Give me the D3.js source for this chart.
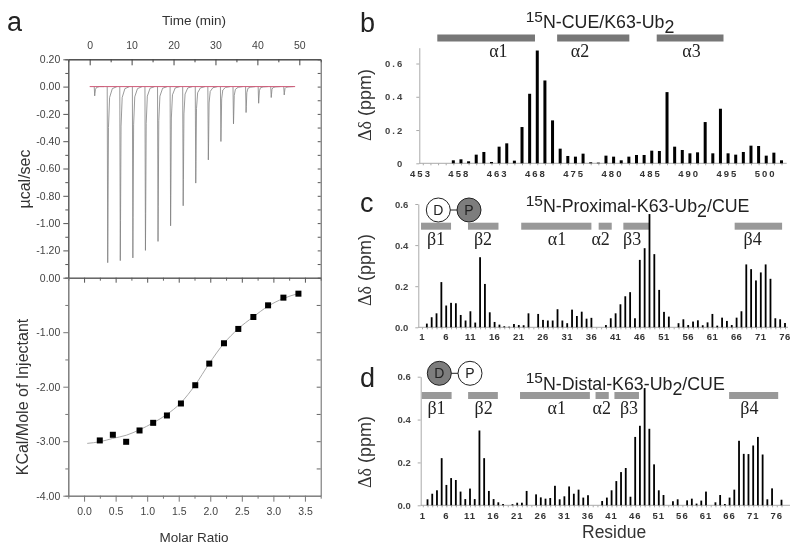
<!DOCTYPE html>
<html>
<head>
<meta charset="utf-8">
<style>
  html, body { margin: 0; padding: 0; background: #fff; }
  svg { display: block; filter: blur(0.35px); }
  text { font-family: "Liberation Sans", Arial, sans-serif; }
  .serif { font-family: "Liberation Serif", serif; }
</style>
</head>
<body>
<svg width="800" height="550"></svg>
<script src="https://cdnjs.cloudflare.com/ajax/libs/d3/7.8.5/d3.min.js"></script>
<script>
// ITC raw trace: one row per injection, power at peakOffsets minutes around each peak
var peakTimes = [1.2, 4.3, 7.3, 10.3, 13.3, 16.3, 19.3, 22.3, 25.3, 28.3, 31.3, 34.3, 37.3, 40.3, 43.3, 46.4];
var peakOffsets = [-0.12, 0, 0.06, 0.18, 0.45, 1.1];
var peakPower = [
    [0, -.068, -.05, -.02, -.006, 0],
    [0, -1.29, -1.0, -.3, -.08, -.015],
    [0, -1.275, -.98, -.29, -.08, -.015],
    [0, -1.255, -.96, -.28, -.075, -.015],
    [0, -1.2, -.93, -.27, -.07, -.012],
    [0, -1.134, -.88, -.25, -.07, -.012],
    [0, -1.02, -.8, -.23, -.06, -.01],
    [0, -.873, -.68, -.2, -.055, -.01],
    [0, -.707, -.55, -.16, -.045, -.01],
    [0, -.537, -.42, -.12, -.035, -.008],
    [0, -.402, -.31, -.09, -.025, -.006],
    [0, -.273, -.21, -.065, -.02, -.005],
    [0, -.19, -.145, -.045, -.012, -.004],
    [0, -.122, -.09, -.03, -.008, -.002],
    [0, -.08, -.06, -.02, -.006, -.002],
    [0, -.061, -.045, -.015, -.005, -.002]
];
var baselineTimes = [0, 49];

// ITC isotherm
var molarRatio = [.249, .456, .667, .879, 1.095, 1.313, 1.535, 1.762, 1.984, 2.217, 2.444, 2.683, 2.916, 3.159, 3.397];
var heatPerMole = [-2.986, -2.882, -3.011, -2.803, -2.663, -2.528, -2.308, -1.973, -1.576, -1.203, -.94, -.721, -.507, -.366, -.293];
var fitRatio = [.05, .25, .45, .67, .88, 1.1, 1.31, 1.53, 1.76, 1.98, 2.22, 2.44, 2.68, 2.92, 3.16, 3.4];
var fitHeat = [-3.04, -3.01, -2.95, -2.89, -2.79, -2.66, -2.51, -2.3, -1.97, -1.58, -1.2, -.94, -.72, -.52, -.38, -.29];

// panel b, residues 453-500
var shiftsB = [0, 0, 0, 0, .018, .024, .012, .052, .068, .008, .1, .12, .016, .218, .418, .678,
    .498, .258, .088, .044, .04, .058, .006, .004, .046, .04, .018, .04, .05, .05, .076, .074,
    .428, .1, .08, .06, .066, .248, .06, .328, .06, .052, .068, .106, .104, .046, .064, .018];
var labelsB = [453, 458, 463, 468, 475, 480, 485, 490, 495, 500]; // printed that way in the figure

// panel c, residues 1-76
var shiftsC = [0, .018, .049, .068, .22, .106, .119, .117, .06, .033, .078, .023, .341, .211, .073, .026,
    .013, .005, .003, .016, .011, .01, .068, 0, .065, .036, .033, .033, .088, .033, .02, .086,
    .055, .076, .042, .046, 0, 0, .011, .044, .068, .112, .151, .171, .044, .328, .385, .551,
    .356, .182, .075, .052, 0, .02, .039, .011, .028, .034, .01, .024, .065, .008, .047, .031,
    .011, .047, .078, .306, .283, .228, .267, .306, .236, .044, .039, .021];

// panel d, residues 1-77
var shiftsD = [0, .028, .054, .07, .22, .095, .127, .118, .064, .029, .078, .029, .349, .22, .067, .029,
    .014, .006, 0, .005, .012, .012, .067, 0, .051, .037, .031, .034, .091, .028, .042, .088,
    .054, .073, .036, .047, 0, 0, .02, .036, .07, .113, .155, .174, .04, .319, .371, .547,
    .357, .191, .07, .048, 0, .019, .028, 0, .023, .031, .008, .022, .064, 0, .014, .048,
    .006, .036, .073, .301, .24, .239, .279, .319, .237, .028, .079, 0, .026];
var residueLabels = [1, 6, 11, 16, 21, 26, 31, 36, 41, 46, 51, 56, 61, 66, 71, 76];

// secondary structure, in residues: name, start, end, label position
var ssNamesB = ["α1", "α2", "α3"];
var ssStartB = [454.9, 470.6, 483.65];
var ssEndB = [467.7, 480.06, 492.4];
var ssLabelB = [462.9, 473.6, 488.2];
var ssNames = ["β1", "β2", "α1", "α2", "β3", "β4"];
var ssStartC = [.8, 10.5, 21.5, 37.5, 42.6, 65.6];
var ssEndC = [7, 16.8, 36, 40.2, 48, 75.4];
var ssLabelC = [3.9, 13.6, 28.9, 37.9, 44.4, 69.3];
var ssStartD = [.8, 10.6, 21.6, 37.6, 41.6, 65.9];
var ssEndD = [7.1, 16.9, 36.4, 40.4, 46.8, 76.3];
var ssLabelD = [3.9, 13.9, 29.4, 38.9, 44.7, 70.2];

var svg = d3.select("svg");
svg.append("rect").attr("width", 800).attr("height", 550).attr("fill", "#fff");

function styleAxis(g, color, fontSize) {
    g.selectAll("path,line").attr("stroke", color);
    g.selectAll("text").attr("fill", "#444").style("font-size", fontSize + "px").attr("font-family", null);
}

function panelLetter(s, x, y) {
    svg.append("text").attr("x", x).attr("y", y).attr("fill", "#222")
        .style("font-size", "27px").text(s);
}

// ---- panel a ----
var left = 68.3, right = 320.7;
var xTime = d3.scaleLinear().domain([-5.1, 55.1]).range([left, right]);
var yPower = d3.scaleLinear().domain([-1.4, .2]).range([277.7, 59.3]);
var xRatio = d3.scaleLinear().domain([-.25, 3.75]).range([left, right]);
var yHeat = d3.scaleLinear().domain([-4, 0]).range([495.7, 277.7]);

var fmt2 = d3.format(".2f");
function hyphen(v) { return fmt2(v).replace("−", "-"); }

// top frame
svg.append("g").attr("transform", "translate(0,59.3)")
    .call(d3.axisTop(xTime).tickValues(d3.range(5, 50, 10)).tickSize(-3).tickFormat(""))
    .call(styleAxis, "#444", 10);
svg.append("g").attr("transform", "translate(0,59.3)")
    .call(d3.axisTop(xTime).tickValues(d3.range(0, 51, 10)).tickSize(-6).tickSizeOuter(0).tickPadding(10))
    .call(styleAxis, "#444", 10.5);
svg.append("g").attr("transform", "translate(" + left + ",0)")
    .call(d3.axisLeft(yPower).tickValues(d3.range(-13, 2, 2).map(function(d) { return d / 10; })).tickSize(3).tickFormat(""))
    .call(styleAxis, "#555", 10);
svg.append("g").attr("transform", "translate(" + left + ",0)")
    .call(d3.axisLeft(yPower).tickValues([-1.4, -1.2, -1, -.8, -.6, -.4, -.2, 0, .2]).tickSize(5).tickSizeOuter(0).tickPadding(3)
        .tickFormat(function(d) { return d == -1.4 ? "0.00" : hyphen(d); }))
    .call(styleAxis, "#555", 10.5);
svg.append("g").attr("transform", "translate(" + right + ",0)")
    .call(d3.axisRight(yPower).tickValues(d3.range(-14, 3, 1).map(function(d) { return d / 10; })).tickSize(-3).tickSizeOuter(0).tickFormat(""))
    .call(styleAxis, "#555", 10);

// raw trace
var traceLine = d3.line().x(function(d) { return xTime(d[0]); }).y(function(d) { return yPower(d[1]); });
peakTimes.forEach(function(t, i) {
    var pts = peakOffsets.map(function(o, j) { return [t + o, peakPower[i][j]]; });
    pts.push([t + 2.2, 0]);
    svg.append("path").datum(pts).attr("d", traceLine)
        .attr("fill", "none").attr("stroke", "#808080").attr("stroke-width", .8);
});
svg.append("path").datum(baselineTimes.map(function(t) { return [t, 0]; })).attr("d", traceLine)
    .attr("fill", "none").attr("stroke", "#cf5a78").attr("stroke-width", 1);

// bottom frame
svg.append("g").attr("transform", "translate(0,277.7)")
    .call(d3.axisTop(xRatio).tickValues(d3.range(.25, 3.75, .5)).tickSize(-3).tickFormat(""))
    .call(styleAxis, "#666", 10);
svg.append("g").attr("transform", "translate(0,277.7)")
    .call(d3.axisTop(xRatio).tickValues(d3.range(0, 3.6, .5)).tickSize(-5).tickSizeOuter(0).tickFormat(""))
    .call(styleAxis, "#555", 10);
svg.append("g").attr("transform", "translate(0,495.7)")
    .call(d3.axisBottom(xRatio).tickValues(d3.range(.25, 3.75, .5)).tickSize(3).tickFormat(""))
    .call(styleAxis, "#777", 10);
svg.append("g").attr("transform", "translate(0,495.7)")
    .call(d3.axisBottom(xRatio).tickValues(d3.range(0, 3.6, .5)).tickSize(6).tickSizeOuter(0).tickPadding(6).tickFormat(d3.format(".1f")))
    .call(styleAxis, "#777", 10.5);
svg.append("g").attr("transform", "translate(" + left + ",0)")
    .call(d3.axisLeft(yHeat).tickValues([-3.5, -2.5, -1.5, -.5]).tickSize(3).tickFormat(""))
    .call(styleAxis, "#777", 10);
svg.append("g").attr("transform", "translate(" + left + ",0)")
    .call(d3.axisLeft(yHeat).tickValues([-4, -3, -2, -1]).tickSize(5).tickSizeOuter(0).tickPadding(3).tickFormat(hyphen))
    .call(styleAxis, "#777", 10.5);
svg.append("g").attr("transform", "translate(" + right + ",0)")
    .call(d3.axisRight(yHeat).tickValues(d3.range(-3.5, 0, .5)).tickSize(-4).tickSizeOuter(0).tickFormat(""))
    .call(styleAxis, "#666", 10);

// isotherm
var fitLine = d3.line().curve(d3.curveMonotoneX)
    .x(function(d, i) { return xRatio(fitRatio[i]); })
    .y(function(d) { return yHeat(d); });
svg.append("path").attr("d", fitLine(fitHeat))
    .attr("fill", "none").attr("stroke", "#aaa").attr("stroke-width", 1);
svg.append("g").selectAll("rect").data(heatPerMole).enter().append("rect")
    .attr("x", function(d, i) { return xRatio(molarRatio[i]) - 3; })
    .attr("y", function(d) { return yHeat(d) - 3; })
    .attr("width", 6).attr("height", 6).attr("fill", "#000");

svg.append("text").attr("x", 194).attr("y", 25).attr("text-anchor", "middle")
    .attr("fill", "#333").style("font-size", "13.5px").text("Time (min)");
svg.append("text").attr("x", 194).attr("y", 541.5).attr("text-anchor", "middle")
    .attr("fill", "#333").style("font-size", "13.5px").text("Molar Ratio");
svg.append("text").attr("transform", "translate(30,179) rotate(-90)").attr("text-anchor", "middle")
    .attr("fill", "#333").style("font-size", "16px").text("µcal/sec");
svg.append("text").attr("transform", "translate(28,397) rotate(-90)").attr("text-anchor", "middle")
    .attr("fill", "#333").style("font-size", "16px").text("KCal/Mole of Injectant");

// ---- panels b, c, d ----
function barPanel(o) {
    var x = d3.scaleLinear().domain(o.resDomain).range(o.resRange);
    var y = d3.scaleLinear().domain([0, o.yMax]).range([o.y0, o.yTop]);

    // gray axes
    svg.append("g").attr("transform", "translate(" + o.axisX + ",0)")
        .call(d3.axisLeft(y).tickValues([0, .2, .4, .6]).tickSize(3).tickSizeOuter(0).tickPadding(o.yPad)
            .tickFormat(function(d) { return d == 0 ? "0" + o.zeroTail : d3.format(".1f")(d); }))
        .call(styleAxis, "#aaa", 9.5)
        .selectAll("text").style("font-weight", "bold").style("letter-spacing", o.yLetter + "px");

    var g = svg.append("g").attr("transform", "translate(0," + o.y0 + ")")
        .call(d3.axisBottom(x).tickValues(o.residues).tickSize(2).tickSizeOuter(0).tickFormat(""))
        .call(styleAxis, "#aaa", 9);
    g.select(".domain").attr("d", "M" + o.axisX + ",0H" + o.axisEnd);

    // printed labels do not always line up with the bars, panel b has its own spacing
    var labelX = o.labelRange ? d3.scaleLinear().domain([0, o.labels.length - 1]).range(o.labelRange) : null;
    svg.append("g").selectAll("text").data(o.labels).enter().append("text")
        .attr("x", function(d, i) { return labelX ? labelX(i) : x(d); })
        .attr("y", o.y0 + o.labelDy).attr("text-anchor", "middle").attr("fill", "#333")
        .style("font-size", "9.5px").style("font-weight", "bold").style("letter-spacing", o.xLetter + "px")
        .text(function(d) { return d; });

    // secondary structure blocks
    svg.append("g").selectAll("rect").data(o.ssNames).enter().append("rect")
        .attr("x", function(d, i) { return x(o.ssStart[i]); })
        .attr("width", function(d, i) { return x(o.ssEnd[i]) - x(o.ssStart[i]); })
        .attr("y", o.ssY).attr("height", 7).attr("fill", o.ssColor);
    svg.append("g").selectAll("text").data(o.ssNames).enter().append("text")
        .attr("class", "serif").attr("x", function(d, i) { return x(o.ssLabel[i]); })
        .attr("y", o.ssY + 22).attr("text-anchor", "middle").attr("fill", "#222")
        .style("font-size", "18px").text(function(d) { return d; });

    // shift bars
    svg.append("g").selectAll("rect").data(o.shifts).enter().append("rect")
        .attr("x", function(d, i) { return x(o.residues[i]) - o.barW / 2; })
        .attr("width", o.barW)
        .attr("y", function(d) { return y(d); })
        .attr("height", function(d) { return y(0) - y(d); })
        .attr("fill", "#000");

    // y title
    var yl = svg.append("text").attr("transform", "translate(" + o.ylX + "," + o.ylY + ") rotate(-90)")
        .attr("text-anchor", "middle").attr("fill", "#333").style("font-size", "18px");
    yl.append("tspan").attr("class", "serif").text("Δδ");
    yl.append("tspan").text(" (ppm)");

    // panel title with 15N and the subscript 2
    var t = svg.append("text").attr("x", o.titleX).attr("y", o.titleY).attr("fill", "#222")
        .style("font-size", "17.8px");
    t.append("tspan").attr("dy", -6.6).style("font-size", "15.5px").text("15");
    t.append("tspan").attr("dy", 6.6).text(o.title);
    t.append("tspan").attr("dy", 5).text("2");
    if (o.titleTail) t.append("tspan").attr("dy", -5).text(o.titleTail);
}

function domainCartoon(cx1, cx2, cy, filled) {
    svg.append("line").attr("x1", cx1).attr("x2", cx2).attr("y1", cy).attr("y2", cy).attr("stroke", "#222");
    [["D", cx1], ["P", cx2]].forEach(function(d, i) {
        svg.append("circle").attr("cx", d[1]).attr("cy", cy).attr("r", 12)
            .attr("fill", i == filled ? "#7d7d7d" : "#fff").attr("stroke", "#222").attr("stroke-width", 1);
        svg.append("text").attr("x", d[1]).attr("y", cy + 5).attr("text-anchor", "middle")
            .attr("fill", "#222").style("font-size", "14px").text(d[0]);
    });
}

barPanel({
    shifts: shiftsB, residues: d3.range(453, 501), resDomain: [453, 500], resRange: [422.8, 781.5],
    labels: labelsB, labelRange: [421, 765.7],
    y0: 163.3, yTop: 47.7, yMax: .695, axisX: 419.3, axisEnd: 786.7, barW: 3,
    yPad: 12, yLetter: 2, xLetter: 2, zeroTail: "", labelDy: 14,
    ssNames: ssNamesB, ssStart: ssStartB, ssEnd: ssEndB, ssLabel: ssLabelB, ssY: 34.5, ssColor: "#777",
    ylX: 371, ylY: 105, titleX: 525.7, titleY: 28.3, title: "N-CUE/K63-Ub"
});
barPanel({
    shifts: shiftsC, residues: d3.range(1, 77), resDomain: [1, 76], resRange: [422, 785],
    labels: residueLabels,
    y0: 327.3, yTop: 204, yMax: .6, axisX: 418.3, axisEnd: 788, barW: 1.8,
    yPad: 7, yLetter: 0, xLetter: .4, zeroTail: ".0", labelDy: 13,
    ssNames: ssNames, ssStart: ssStartC, ssEnd: ssEndC, ssLabel: ssLabelC, ssY: 222.7, ssColor: "#999",
    ylX: 371, ylY: 270, titleX: 525.7, titleY: 212.3, title: "N-Proximal-K63-Ub", titleTail: "/CUE"
});
barPanel({
    shifts: shiftsD, residues: d3.range(1, 78), resDomain: [1, 77], resRange: [422.8, 781.5],
    labels: residueLabels,
    y0: 505.3, yTop: 376.7, yMax: .6, axisX: 420.7, axisEnd: 790, barW: 1.8,
    yPad: 7, yLetter: 0, xLetter: 1, zeroTail: ".0", labelDy: 14,
    ssNames: ssNames, ssStart: ssStartD, ssEnd: ssEndD, ssLabel: ssLabelD, ssY: 392, ssColor: "#999",
    ylX: 371, ylY: 452, titleX: 525.7, titleY: 390, title: "N-Distal-K63-Ub", titleTail: "/CUE"
});

domainCartoon(438.3, 469, 210, 1);
domainCartoon(439.3, 470, 373.3, 0);

svg.append("text").attr("x", 582).attr("y", 537.5).attr("fill", "#333")
    .style("font-size", "17.5px").text("Residue");

panelLetter("a", 7, 31);
panelLetter("b", 360, 32);
panelLetter("c", 360, 212);
panelLetter("d", 360, 387);
</script>
</body>
</html>
